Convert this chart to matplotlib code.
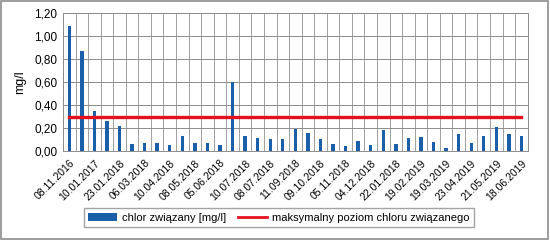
"""
Chlor związany - bar chart with max level line.
"""
import matplotlib
matplotlib.use("Agg")
import matplotlib.pyplot as plt
from matplotlib.patches import Rectangle, Patch
from matplotlib.lines import Line2D
from matplotlib.ticker import FuncFormatter
import numpy as np

plt.rcParams["font.family"] = ["Liberation Sans Narrow", "Liberation Sans", "DejaVu Sans"]

values = [1.09, 0.87, 0.35, 0.26, 0.22, 0.06, 0.07, 0.07, 0.05, 0.13,
          0.07, 0.07, 0.05, 0.60, 0.13, 0.11, 0.10, 0.10, 0.19, 0.16,
          0.10, 0.06, 0.04, 0.09, 0.05, 0.18, 0.06, 0.11, 0.12, 0.08,
          0.03, 0.15, 0.07, 0.13, 0.21, 0.15, 0.13]
tick_labels = ["08.11.2016", "10.01.2017", "23.01.2018", "06.03.2018", "10.04.2018",
               "08.05.2018", "05.06.2018", "10.07.2018", "08.07.2018", "11.09.2018",
               "09.10.2018", "05.11.2018", "04.12.2018", "22.01.2018", "19.02.2019",
               "19.03.2019", "23.04.2019", "21.05.2019", "18.06.2019"]
max_level = 0.30

BLUE = "#1a5fa8"
RED = "#e3101e"

n = len(values)
x = np.arange(n)

fig = plt.figure(figsize=(5.5, 2.4), dpi=100)
ax = fig.add_axes([0.1145, 0.371, 0.845, 0.5736])

ax.bar(x, values, width=0.27, color=BLUE, zorder=3)
ax.plot([x[0], x[-1]], [max_level, max_level], color=RED, linewidth=2.4, zorder=4)

ax.set_xlim(-0.5, n - 0.5)
ax.set_ylim(0, 1.2)
ax.set_yticks(np.arange(0, 1.21, 0.2))
ax.yaxis.set_major_formatter(FuncFormatter(lambda v, p: f"{v:.2f}".replace(".", ",")))
ax.tick_params(axis="y", length=0, labelsize=8.5, pad=4)

ax.set_xticks(x[::2])
ax.set_xticklabels(tick_labels, rotation=45, ha="right", rotation_mode="anchor", fontsize=7.5)
ax.set_xticks(np.arange(-0.5, n, 1), minor=True)
ax.tick_params(axis="x", which="both", length=0, pad=5)

ax.grid(axis="y", color="#8c8c8c", linewidth=0.7, zorder=0)
ax.grid(axis="x", which="minor", color="#a0a0a0", linewidth=0.7, zorder=0)
ax.grid(axis="x", which="major", visible=False)
for s in ax.spines.values():
    s.set_color("#8c8c8c")
    s.set_linewidth(0.7)

ax.set_ylabel("mg/l", fontsize=9, labelpad=6)

handles = [Patch(fc=BLUE, label="chlor związany [mg/l]"),
           Line2D([], [], color=RED, linewidth=2.0, label="maksymalny poziom chloru związanego")]
fig.legend(handles=handles, ncol=2, loc="center", bbox_to_anchor=(0.507, 0.092),
           fontsize=8, frameon=True, fancybox=False, edgecolor="#8c8c8c",
           handlelength=2.6, handletextpad=0.5, columnspacing=1.0, borderpad=0.4)

fig.patches.append(Rectangle((0.002, 0.004), 0.995, 0.992, transform=fig.transFigure,
                             fill=False, edgecolor="#8c8c8c", linewidth=1.2))

fig.savefig("out.png", dpi=100)
